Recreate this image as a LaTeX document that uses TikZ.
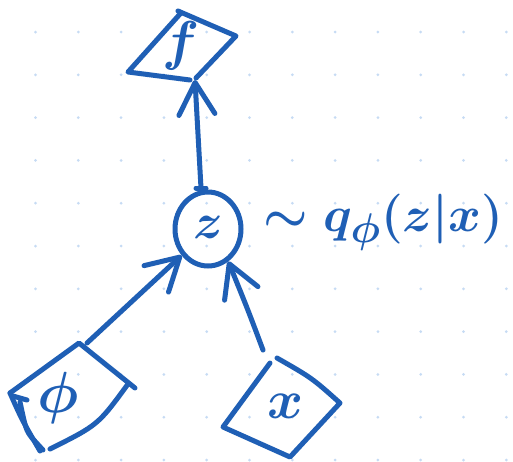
\documentclass[tikz,border=0pt]{standalone}
\usepackage{graphicx}
\usetikzlibrary{arrows.meta,shapes.geometric}
\definecolor{ink}{HTML}{1F5FB5}
\definecolor{griddot}{HTML}{C6DBF4}
\tikzset{
  pen/.style={draw=ink,line width=5pt,line cap=round,line join=round},
  conn/.style={pen,-{Straight Barb[length=32pt,width=36pt,line width=5pt,round]}},
  lbl/.style={text=ink,inner sep=0pt,font=\Huge\boldmath},
}
\begin{document}
\begin{tikzpicture}[x=1pt,y=-1pt]
\useasboundingbox[fill=white] (0,0) rectangle (513,461);
% dotted background grid
\foreach \i in {0,...,11}{
  \foreach \j in {0,...,10}{
    \fill[griddot] ({35.5+42.8*\i},{32+42.8*\j}) circle (1.5pt);
  }
}
% latent node z
\node[pen,ellipse,minimum width=66pt,minimum height=74pt,inner sep=0pt] (z) at (208,229) {};
\node[lbl] (zt) at (208,227) {\scalebox{2}{$z$}};
% f box
\coordinate (fT) at (178,11);
\coordinate (fR) at (236,36);
\coordinate (fB) at (193,80);
\coordinate (fL) at (128,72);
\draw[pen] (180,14) -- (fL) -- (190,80);
\draw[pen] (fT) -- (fR) -- (196,78);
\node[lbl] (f) at (181,46) {\scalebox{2.2}{$f$}};
% phi box
\coordinate (pT) at (79,343);
\coordinate (pR) at (135,388);
\coordinate (pB) at (50,449);
\coordinate (pL) at (10,393);
\draw[pen] (pL) -- (pT) -- (pR);
\draw[pen] (128,384) .. controls (98,425) .. (pB);
\draw[pen] (pL) .. controls (22,420) .. (40,451);
\draw[pen] (13,396) -- (27,400);
\draw[pen] (20,402) .. controls (26,430) .. (32,438) -- (43,450);
\node[lbl] (phi) at (58,398) {\scalebox{2.33}{$\phi$}};
% x box
\coordinate (xT) at (277,358);
\coordinate (xR) at (340,403);
\coordinate (xB) at (290,457);
\coordinate (xL) at (223,427);
\draw[pen] (270,363) -- (xL) -- (xB) -- (xR) .. controls (312,378) .. (xT);
\node[lbl] (x) at (286,406) {\scalebox{2.2}{$x$}};
% connectors
\coordinate (zin) at (201,188);
\draw[pen] (196,188) -- (206,188);
\draw[conn] (zin) -- (195,80);
\coordinate (phiout) at (87,343);
\draw[conn] (phiout) -- (z.225);
\coordinate (xout) at (263,350);
\draw[conn] (xout) .. controls (248,310) .. (z.302);
% distribution label
\node[lbl,anchor=west] (lab) at (263,222) {\resizebox{240pt}{!}{$\sim q_{\phi}(z|x)$}};
\end{tikzpicture}
\end{document}
